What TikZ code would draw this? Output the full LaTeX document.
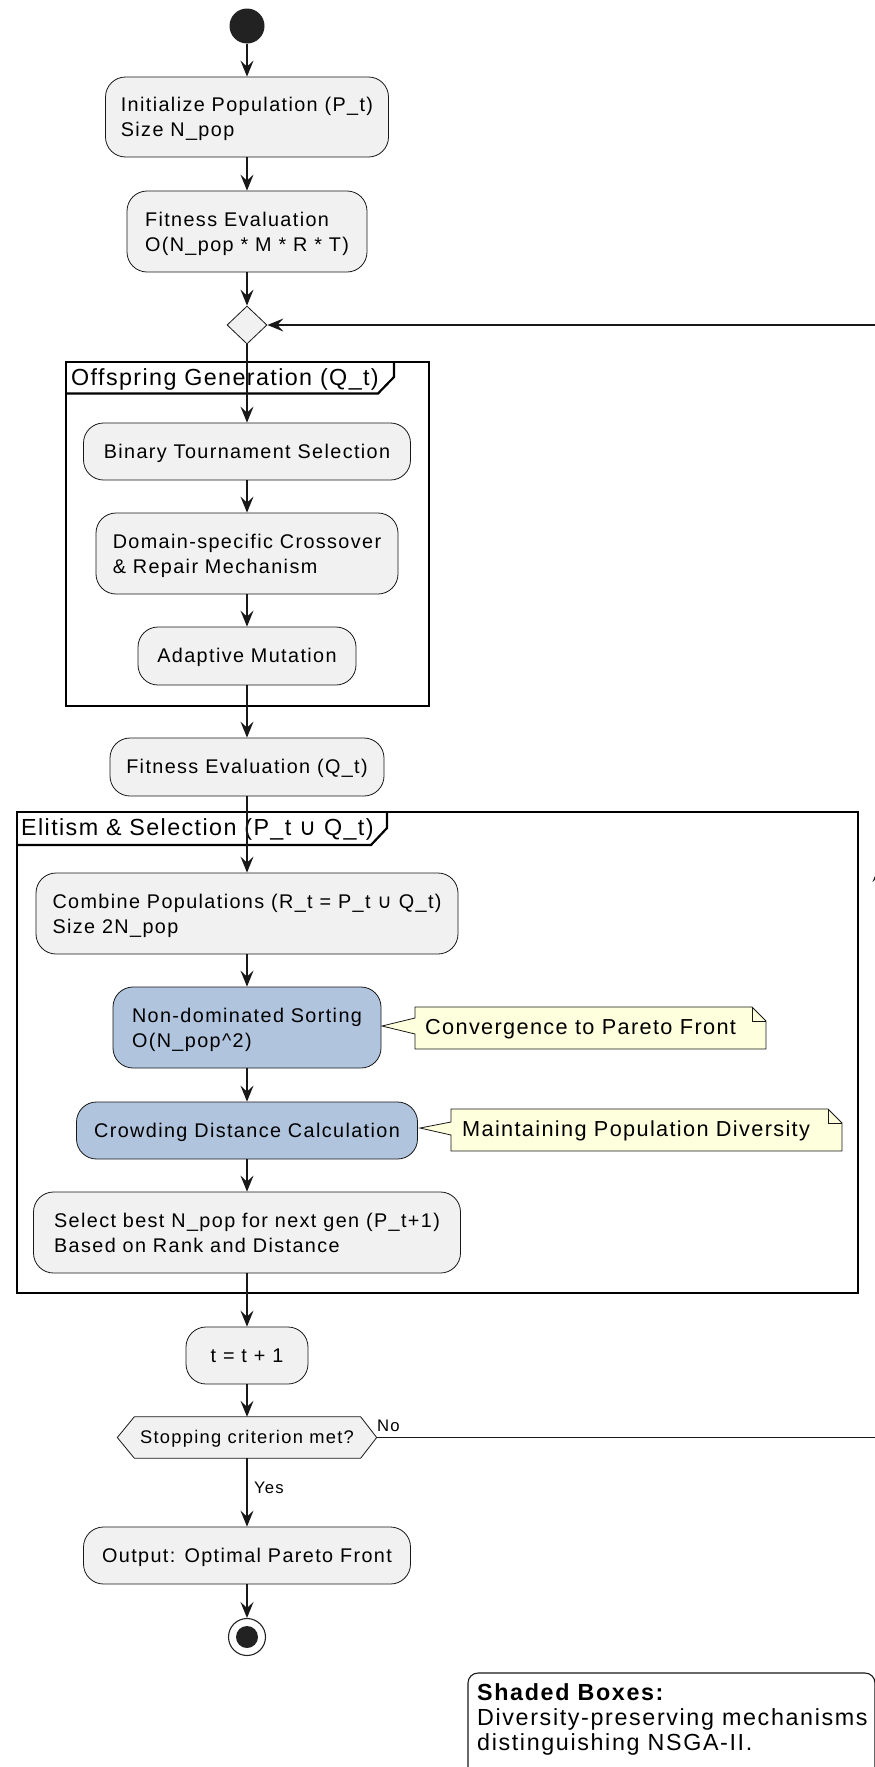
\documentclass[tikz,border=0pt]{standalone}
\usepackage{fontspec}
\setmainfont{Liberation Sans}[LetterSpace=7]
\newfontfamily\notefnt{Liberation Sans}[LetterSpace=6.2]
\newfontfamily\titlefnt{Liberation Sans}[LetterSpace=6]
\newfontfamily\symfnt{DejaVu Sans}
\usetikzlibrary{arrows.meta,shapes.geometric}
\definecolor{linec}{HTML}{181818}
\definecolor{boxfill}{HTML}{F1F1F1}
\definecolor{bluefill}{HTML}{B0C4DE}
\definecolor{notefill}{HTML}{FEFFDD}
\definecolor{darkc}{HTML}{222222}
\newcommand\bxfont{\fontsize{19.8pt}{25pt}\selectfont}
\newcommand\ntfont{\notefnt\fontsize{21.7pt}{26pt}\selectfont}
\newcommand\gtfont{\titlefnt\fontsize{23.3pt}{28pt}\selectfont}
\newcommand\hxfont{\fontsize{18.3pt}{22pt}\selectfont}
\newcommand\lbfont{\fontsize{16.7pt}{20pt}\selectfont}
\newcommand\lgfont{\fontsize{23.3pt}{25pt}\selectfont}
\newcommand\unionsym{{\symfnt ∪}}
\newcommand\boxstrut{\rule[-4pt]{0pt}{21.5pt}}
\newcommand\twolines[2]{\rule{0pt}{19pt}#1\\#2\rule[-4pt]{0pt}{4pt}}
\tikzset{
  actbase/.style={draw=linec, line width=0.8pt, fill=boxfill, rounded corners=20pt,
    inner sep=0pt, align=left, font=\bxfont, text=black},
  act/.style={actbase, execute at begin node=\boxstrut, execute at end node=\boxstrut},
  acttwo/.style={actbase},
  blue/.style={fill=bluefill},
  arr/.style={draw=linec, line width=1.4pt, -{Stealth[length=16pt,width=13pt,inset=6pt]}},
  grp/.style={draw=black, line width=2.4pt},
  grptab/.style={draw=black, line width=2.2pt},
  gtitle/.style={font=\gtfont, inner sep=0pt, text=black},
  startc/.style={circle, fill=darkc, minimum size=35pt, inner sep=0pt},
  endc/.style={circle, draw=darkc, fill=white, line width=1.1pt, minimum size=37pt, inner sep=0pt},
  dia/.style={diamond, draw=linec, fill=boxfill, line width=0.8pt, minimum width=40pt, minimum height=38pt, inner sep=0pt},
  hexs/.style={draw=linec, fill=boxfill, line width=0.8pt},
  notes/.style={draw=linec, fill=notefill, line width=0.8pt},
  notefold/.style={draw=linec, line width=0.8pt},
  notet/.style={font=\ntfont, inner sep=0pt, text=black},
  lbl/.style={font=\lbfont, inner sep=0pt, text=black},
  lgt/.style={font=\lgfont, inner sep=0pt, text=black, anchor=base west},
}
\begin{document}
\begin{tikzpicture}[x=1pt,y=-1pt]
\useasboundingbox (0,0) rectangle (875,1767);

% groups
\draw[grp] (66,362) rectangle (429,706);
\draw[grptab] (66,393.5) -- (378,393.5) -- (394,377) -- (394,362);
\node[gtitle, anchor=west] (g1t) at (71,379.3) {Offspring Generation (Q\_t)};
\draw[grp] (17,812) rectangle (858,1293);
\draw[grptab] (17,845) -- (371,845) -- (387,828) -- (387,812);
\node[gtitle, anchor=west] (g2t) at (21,829) {Elitism \& Selection (P\_t \unionsym{} Q\_t)};

% nodes
\node[startc] (start) at (247,26) {};
\node[acttwo, minimum width=283pt, minimum height=80pt] (init) at (247,117) {\twolines{Initialize Population (P\_t)}{Size N\_pop}};
\node[acttwo, minimum width=240pt, minimum height=81pt] (fit1) at (247,231.5) {\twolines{Fitness Evaluation}{O(N\_pop * M * R * T)}};
\node[dia] (merge) at (247,325) {};
\node[act, minimum width=327pt, minimum height=57pt] (binary) at (247,451.5) {Binary Tournament Selection};
\node[acttwo, minimum width=302pt, minimum height=81pt] (domain) at (247,553.5) {\twolines{Domain-specific Crossover}{\& Repair Mechanism}};
\node[act, minimum width=218pt, minimum height=58pt] (adapt) at (247,656) {Adaptive Mutation};
\node[act, minimum width=274pt, minimum height=58pt] (fitq) at (247,767) {Fitness Evaluation (Q\_t)};
\node[acttwo, minimum width=422pt, minimum height=81pt] (combine) at (247,913.5) {\twolines{Combine Populations (R\_t = P\_t \unionsym{} Q\_t)}{Size 2N\_pop}};
\node[acttwo, blue, minimum width=268pt, minimum height=81pt] (nondom) at (247,1027.5) {\twolines{Non-dominated Sorting}{O(N\_pop\textasciicircum 2)}};
\node[act, blue, minimum width=341pt, minimum height=57pt] (crowd) at (247,1130.5) {Crowding Distance Calculation};
\node[acttwo, minimum width=427pt, minimum height=81pt] (select) at (247,1232.5) {\twolines{Select best N\_pop for next gen (P\_t+1)}{Based on Rank and Distance}};
\node[act, minimum width=122pt, minimum height=57pt] (tinc) at (247,1355.5) {t = t + 1};
\node[minimum width=259pt, minimum height=41pt, inner sep=0pt] (stop) at (247,1437.5) {};
\draw[hexs] (stop.west) -- ([xshift=17pt]stop.north west) -- ([xshift=-16pt]stop.north east) -- (stop.east)
  -- ([xshift=-16pt]stop.south east) -- ([xshift=17pt]stop.south west) -- cycle;
\node[font=\hxfont, inner sep=0pt] (stoptxt) at (247,1438.5) {Stopping criterion met?};
\node[act, minimum width=327pt, minimum height=57pt] (output) at (247,1555.5) {Output: Optimal Pareto Front};
\node[endc] (end) at (247,1637) {};
\fill[darkc] (end.center) circle[radius=11pt];

% notes
\draw[notes] (415,1007) -- (752,1007) -- (766,1021) -- (766,1049) -- (415,1049) -- (415,1034) -- (382,1026) -- (415,1018) -- cycle;
\draw[notefold] (752,1007) -- (752,1021) -- (766,1021);
\node[notet, anchor=west] (n1) at (425,1029) {Convergence to Pareto Front};
\draw[notes] (451,1109) -- (828,1109) -- (842,1123) -- (842,1151) -- (451,1151) -- (451,1135) -- (420,1128) -- (451,1122) -- cycle;
\draw[notefold] (828,1109) -- (828,1123) -- (842,1123);
\node[notet, anchor=west] (n2) at (462,1131) {Maintaining Population Diversity};

% connectors
\draw[arr] (start) -- (init);
\draw[arr] (init) -- (fit1);
\draw[arr] (fit1) -- (merge);
\draw[arr] (merge) -- (binary);
\draw[arr] (binary) -- (domain);
\draw[arr] (domain) -- (adapt);
\draw[arr] (adapt) -- (fitq);
\draw[arr] (fitq) -- (combine);
\draw[arr] (combine) -- (nondom);
\draw[arr] (nondom) -- (crowd);
\draw[arr] (crowd) -- (select);
\draw[arr] (select) -- (tinc);
\draw[arr] (tinc) -- (stop);
\draw[arr] (stop) -- (output);
\draw[arr] (output) -- (end);
\coordinate (lr) at (879,1437.5);
\coordinate (ur) at (879,325);
\draw[arr] (stop.east) -- (lr) -- (ur) -- (merge.east);
\coordinate (midA) at (879,892);
\coordinate (midB) at (879,866);
\draw[arr] (midA) -- (midB);
\node[lbl, anchor=base west] (yes) at (254,1493) {Yes};
\node[lbl, anchor=base west] (no) at (377,1431.5) {No};

% legend
\draw[draw=linec, line width=1.1pt, fill=white, rounded corners=10pt] (468,1800) -- (468,1673) -- (875,1673) -- (875,1800);
\node[lgt, font=\lgfont\bfseries] (lg1) at (477,1700.5) {Shaded Boxes:};
\node[lgt] (lg2) at (477,1725) {Diversity-preserving mechanisms};
\node[lgt] (lg3) at (477,1750.5) {distinguishing NSGA-II.};
\end{tikzpicture}
\end{document}
